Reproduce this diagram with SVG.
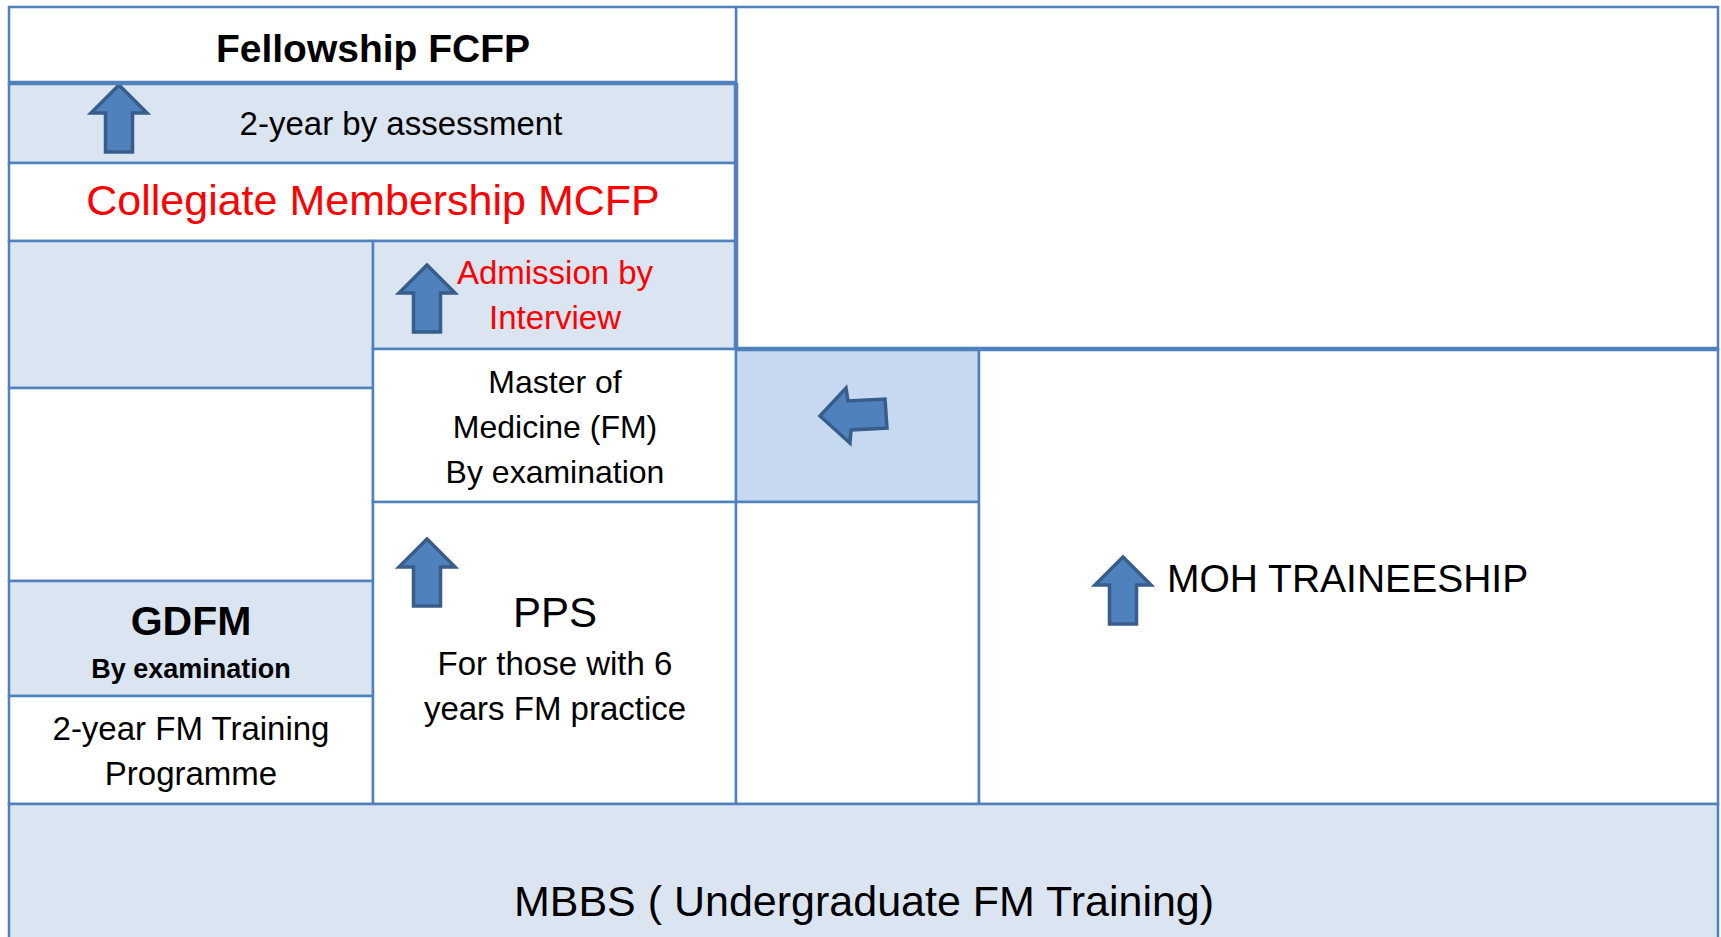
<svg xmlns="http://www.w3.org/2000/svg" xmlns:xlink="http://www.w3.org/1999/xlink" width="1721" height="937" viewBox="0 0 1721 937">
<style>
.c{stroke:#4F81BD;stroke-width:2.5}
.w{fill:#FFFFFF}
.l{fill:#DBE5F1}
.d{fill:#C6D9F1}
.t{font-family:"Liberation Sans",Arial,sans-serif;fill:#000;text-anchor:middle}
.r{fill:#FF0000}
.b{font-weight:bold}
.thick{stroke:#4F81BD;stroke-width:4.5;fill:none}
.arr{fill:#4F81BD;stroke:#385D8A;stroke-width:3.5;stroke-linejoin:miter}
</style>
<defs>
<path id="up" d="M0,0 L28,28 L13.5,28 L13.5,67 L-13.5,67 L-13.5,28 L-28,28 Z"/>
</defs>
<rect x="0" y="0" width="1721" height="937" fill="#FFFFFF"/>
<g id="topright"><rect class="c w" x="736" y="7" width="982" height="342"/></g>
<g id="fellowship"><rect class="c w" x="9" y="7" width="727" height="76"/>
<text class="t b" x="373" y="62" font-size="39">Fellowship FCFP</text></g>
<g id="assessment"><rect class="c l" x="9" y="83" width="727" height="80"/>
<text class="t" x="401" y="135" font-size="33">2-year by assessment</text>
<use href="#up" class="arr" x="119" y="85"/></g>
<g id="mcfp"><rect class="c w" x="9" y="163" width="727" height="78"/>
<text class="t r" x="373" y="215" font-size="43">Collegiate Membership MCFP</text></g>
<g id="leftgray"><rect class="c l" x="9" y="241" width="364" height="147"/></g>
<g id="leftwhite"><rect class="c w" x="9" y="388" width="364" height="193"/></g>
<g id="gdfm"><rect class="c l" x="9" y="581" width="364" height="115"/>
<text class="t b" x="191" y="635" font-size="41">GDFM</text>
<text class="t b" x="191" y="678" font-size="27">By examination</text></g>
<g id="training"><rect class="c w" x="9" y="696" width="364" height="108"/>
<text class="t" x="191" y="740" font-size="33">2-year FM Training</text>
<text class="t" x="191" y="785" font-size="33">Programme</text></g>
<g id="admission"><rect class="c l" x="373" y="241" width="363" height="108"/>
<text class="t r" x="555" y="284" font-size="33">Admission by</text>
<text class="t r" x="555" y="329" font-size="33">Interview</text>
<use href="#up" class="arr" x="427" y="265"/></g>
<g id="master"><rect class="c w" x="373" y="349" width="363" height="153"/>
<text class="t" x="555" y="393" font-size="32">Master of</text>
<text class="t" x="555" y="438" font-size="32">Medicine (FM)</text>
<text class="t" x="555" y="483" font-size="32">By examination</text></g>
<g id="pps"><rect class="c w" x="373" y="502" width="363" height="302"/>
<text class="t" x="555" y="627" font-size="42">PPS</text>
<text class="t" x="555" y="675" font-size="33">For those with 6</text>
<text class="t" x="555" y="720" font-size="33">years FM practice</text>
<use href="#up" class="arr" x="427" y="539"/></g>
<g id="bridge"><rect class="c d" x="736" y="349" width="243" height="153"/>
<polygon class="arr" points="820,416 846,388 848,401 885,399 887,428 851,430 850,443"/></g>
<g id="bridgelow"><rect class="c w" x="736" y="502" width="243" height="302"/></g>
<g id="moh"><rect class="c w" x="979" y="349" width="739" height="455"/>
<text class="t" x="1167" y="592" font-size="39" style="text-anchor:start">MOH TRAINEESHIP</text>
<use href="#up" class="arr" x="1123" y="557"/></g>
<g id="mbbs"><rect class="c l" x="9" y="804" width="1709" height="150"/>
<text class="t" x="864" y="916" font-size="43">MBBS ( Undergraduate FM Training)</text></g>
<g id="connectors">
<line class="thick" x1="9" y1="83" x2="736" y2="83"/>
<line class="thick" x1="736" y1="83" x2="736" y2="349"/>
<line class="thick" x1="736" y1="349" x2="1718" y2="349"/>
</g>
</svg>
